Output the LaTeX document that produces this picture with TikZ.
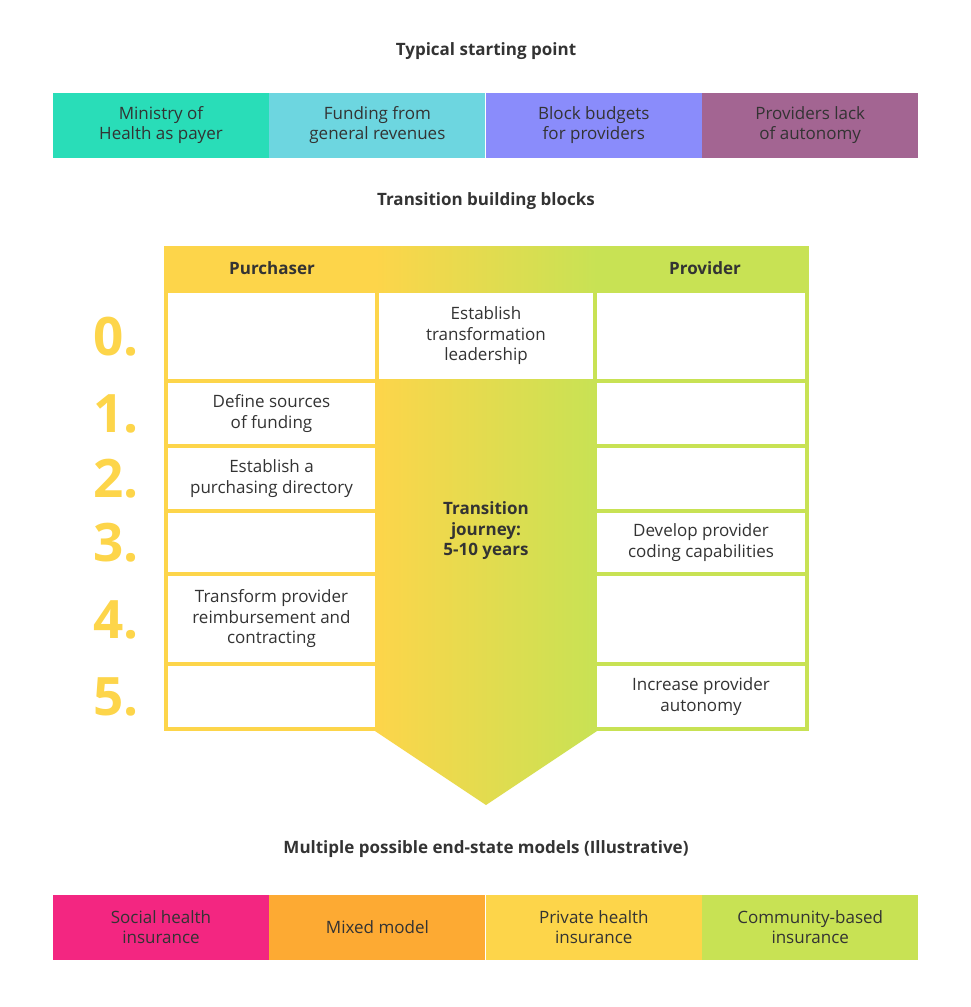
\documentclass[tikz,border=0pt]{standalone}
\usepackage{fontspec}
\setmainfont{Open Sans}
\usetikzlibrary{positioning}
\definecolor{txt}{HTML}{333333}
\definecolor{tealc}{HTML}{29DDB8}
\definecolor{cyanc}{HTML}{6DD6E0}
\definecolor{perc}{HTML}{8A8CFB}
\definecolor{purc}{HTML}{A36592}
\definecolor{pinkc}{HTML}{F32681}
\definecolor{orac}{HTML}{FDAA33}
\definecolor{yel}{HTML}{FDD54A}
\definecolor{grn}{HTML}{C8E254}
\tikzset{
  bartext/.style={font=\fontsize{17}{20.5}\selectfont, text=txt, align=center},
  barcell/.style={bartext, minimum width=216pt, minimum height=65pt, inner sep=0pt},
  heading/.style={font=\bfseries\fontsize{17}{20.5}\selectfont, text=txt, align=center},
  box/.style={bartext, fill=white, inner sep=0pt},
  numlabel/.style={font=\bfseries\fontsize{53}{53}\selectfont, text=yel}
}
\begin{document}
\begin{tikzpicture}[x=1pt, y=-1pt]
  \useasboundingbox (0,0) rectangle (970,1007);
  % --- starting point ---
  \node[heading] (start) at (486,51) {Typical starting point};
  \node[barcell, fill=tealc] (s1) at (161,125) {Ministry of\\Health as payer};
  \node[barcell, fill=cyanc, right=0pt of s1] (s2) {Funding from\\general revenues};
  \node[barcell, fill=perc, right=0pt of s2] (s3) {Block budgets\\for providers};
  \node[barcell, fill=purc, right=0pt of s3] (s4) {Providers lack\\of autonomy};

  % --- building blocks frame ---
  \node[heading] (blocks) at (486,201) {Transition building blocks};
  \fill[yel] (164,246) rectangle (375,731);
  \fill[grn] (597,246) rectangle (809,731);
  \shade[left color=yel, right color=grn] (375,246) -- (597,246) -- (597,731)
    -- (486,805) -- (375,731) -- cycle;
  \node[heading] (purch) at (272,268) {Purchaser};
  \node[heading] (prov) at (705,268) {Provider};

  % --- purchaser column ---
  \node[box, minimum width=207pt, minimum height=86pt] (p0) at (271.5,336) {};
  \node[box, minimum width=207pt, minimum height=61pt] (p1) at (271.5,413.5) {Define sources\\of funding};
  \node[box, minimum width=207pt, minimum height=61pt] (p2) at (271.5,478.5) {Establish a\\purchasing directory};
  \node[box, minimum width=207pt, minimum height=59pt] (p3) at (271.5,542.5) {};
  \node[box, minimum width=207pt, minimum height=86pt] (p4) at (271.5,619) {Transform provider\\reimbursement and\\contracting};
  \node[box, minimum width=207pt, minimum height=61pt] (p5) at (271.5,696.5) {};

  % --- middle ---
  \node[box, minimum width=214pt, minimum height=86pt] (m0) at (486,336) {Establish\\transformation\\leadership};
  \node[heading] (journey) at (486,531) {Transition\\journey:\\5-10 years};

  % --- provider column ---
  \node[box, minimum width=208pt, minimum height=86pt] (r0) at (701,336) {};
  \node[box, minimum width=208pt, minimum height=61pt] (r1) at (701,413.5) {};
  \node[box, minimum width=208pt, minimum height=61pt] (r2) at (701,478.5) {};
  \node[box, minimum width=208pt, minimum height=59pt] (r3) at (701,542.5) {Develop provider\\coding capabilities};
  \node[box, minimum width=208pt, minimum height=86pt] (r4) at (701,619) {};
  \node[box, minimum width=208pt, minimum height=61pt] (r5) at (701,696.5) {Increase provider\\autonomy};

  % --- step numbers ---
  \foreach \n/\y in {0/337,1/414,2/479,3/543,4/620,5/697}
    \node[numlabel] (num\n) at (116,\y) {\n.};

  % --- end states ---
  \node[heading] (endst) at (486,849) {Multiple possible end-state models (Illustrative)};
  \node[barcell, fill=pinkc] (e1) at (161,927) {Social health\\insurance};
  \node[barcell, fill=orac, right=0pt of e1] (e2) {Mixed model};
  \node[barcell, fill=yel, right=0pt of e2] (e3) {Private health\\insurance};
  \node[barcell, fill=grn, right=0pt of e3] (e4) {Community-based\\insurance};
\end{tikzpicture}
\end{document}
